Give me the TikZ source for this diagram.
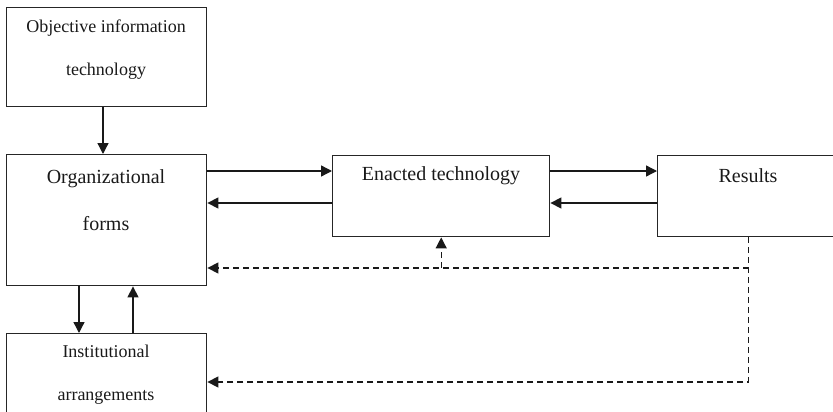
\documentclass[tikz,border=0pt]{standalone}
\usepackage{fontspec}
\setmainfont{Liberation Serif}
\usetikzlibrary{arrows.meta}

\begin{document}
\begin{tikzpicture}[x=1pt, y=-1pt,
  box/.style={draw=black!85, line width=1.4pt, inner sep=0pt, anchor=north west},
  lbl/.style={align=center, text=black!90, inner sep=0pt},
  link/.style={line width=1.3pt, draw=black!90, -{Triangle[length=11pt,width=11pt]}},
  fb/.style={link, dash pattern=on 6pt off 4pt}]
 \useasboundingbox (0,0) rectangle (833,412);
 % boxes
 \node[box, minimum width=200pt, minimum height=99pt] (obj) at (6,7) {};
 \node[box, minimum width=200pt, minimum height=131pt] (org) at (6,154) {};
 \node[box, minimum width=200pt, minimum height=100pt] (inst) at (6,333) {};
 \node[box, minimum width=217pt, minimum height=81pt] (enact) at (332,155) {};
 \node[box, minimum width=182pt, minimum height=81pt] (res) at (657,155) {};
 % box texts
 \node[lbl, font=\fontsize{18}{43}\selectfont] (objtxt) at (106,49.5) {Objective information\\technology};
 \node[lbl, font=\fontsize{20}{47}\selectfont] (orgtxt) at (106,200) {Organizational\\forms};
 \node[lbl, font=\fontsize{18}{43}\selectfont] (insttxt) at (106,375) {Institutional\\arrangements};
 \node[lbl, font=\fontsize{20}{24}\selectfont] (enacttxt) at (441,176) {Enacted technology};
 \node[lbl, font=\fontsize{20}{24}\selectfont] (restxt) at (748,176) {Results};
 % rows and columns for the connectors
 \coordinate (r1) at (0,171);
 \coordinate (r2) at (0,203);
 \coordinate (r3) at (0,268);
 \coordinate (r4) at (0,382);
 \coordinate (c0) at (103,0);
 \coordinate (c1) at (79,0);
 \coordinate (c2) at (133,0);
 % solid links
 \draw[link] (c0 |- obj.south) -- (c0 |- org.north);
 \draw[link] (org.east |- r1) -- (enact.west |- r1);
 \draw[link] (enact.west |- r2) -- (org.east |- r2);
 \draw[link] (enact.east |- r1) -- (res.west |- r1);
 \draw[link] (res.west |- r2) -- (enact.east |- r2);
 \draw[link] (c1 |- org.south) -- (c1 |- inst.north);
 \draw[link] (c2 |- inst.north) -- (c2 |- org.south);
 % feedback from results
 \draw[fb] (res.south) -- (res.south |- r4) -- (inst.east |- r4);
 \draw[fb] (res.south |- r3) -- (org.east |- r3);
 \draw[fb] (enact.south |- r3) -- (enact.south);
\end{tikzpicture}
\end{document}
